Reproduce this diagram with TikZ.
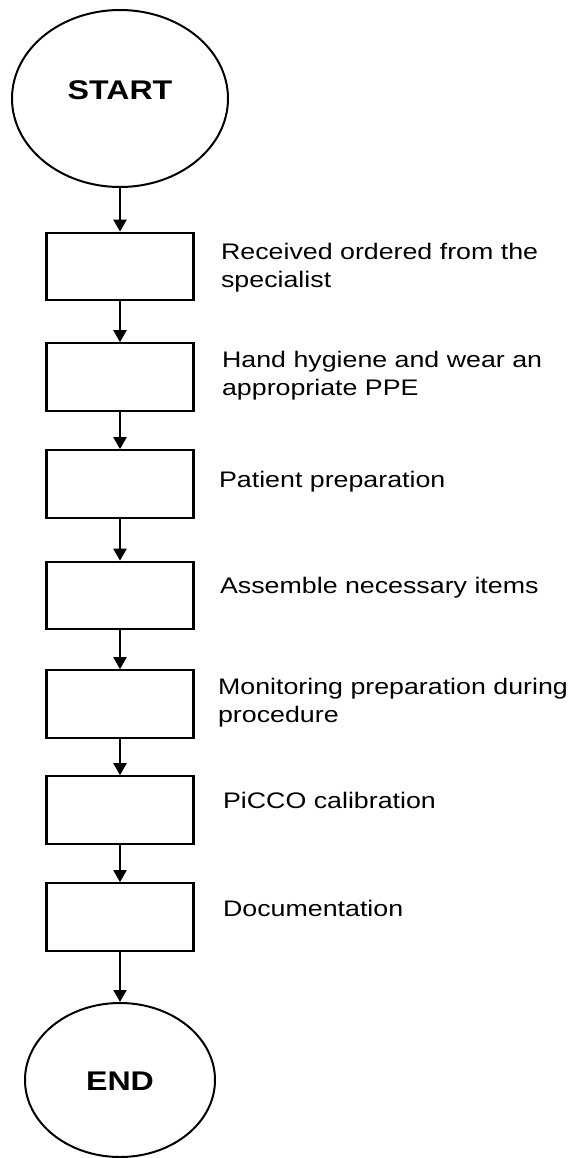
\documentclass[tikz,border=0pt]{standalone}
\usepackage{fontspec}
\setmainfont{Liberation Sans}[FakeStretch=1.19]
\usetikzlibrary{arrows.meta,shapes.geometric}

\begin{document}
\begin{tikzpicture}[x=1bp, y=-1bp, line width=2.2bp,
    every node/.style={font=\fontsize{22.5bp}{28bp}\selectfont},
    stepbox/.style={draw, rectangle, minimum width=147bp, minimum height=67.5bp, inner sep=0pt},
    term/.style={draw, ellipse, inner sep=0pt, line width=2bp},
    termtext/.style={font=\fontsize{27bp}{32bp}\selectfont\bfseries},
    steptext/.style={anchor=west, align=left, inner sep=0pt},
    flow/.style={-{Triangle[width=13bp,length=12bp]}}]
      \useasboundingbox (0,0) rectangle (573,1158);
      \node[term, minimum width=216bp, minimum height=177bp] (start) at (120,98.5) {};
      \node[termtext] (starttxt) at (120,90) {START};
      \node[stepbox] (received)   at (120,266.5) {};
      \node[stepbox] (hygiene)    at (120,377)   {};
      \node[stepbox] (patient)    at (120,484)   {};
      \node[stepbox] (assemble)   at (120,595.5) {};
      \node[stepbox] (monitoring) at (120,704)   {};
      \node[stepbox] (calib)      at (120,810)   {};
      \node[stepbox] (docu)       at (120,917)   {};
      \node[term, minimum width=190bp, minimum height=154bp] (stop) at (120,1080) {};
      \node[termtext] (stoptxt) at (120,1081) {END};
      \node[steptext] (receivedtxt)   at (220,268) {Received ordered from the\\specialist};
      \node[steptext] (hygienetxt)    at (221,375.5) {Hand hygiene and wear an\\appropriate PPE};
      \node[steptext] (patienttxt)    at (218,482) {Patient preparation};
      \node[steptext] (assembletxt)   at (219,588) {Assemble necessary items};
      \node[steptext] (monitoringtxt) at (217,703) {Monitoring preparation during\\procedure};
      \node[steptext] (calibtxt)      at (222,800) {PiCCO calibration};
      \node[steptext] (docutxt)       at (222,908) {Documentation};
      \draw[flow] (start) -- (received);
      \draw[flow] (received) -- (hygiene);
      \draw[flow] (hygiene) -- (patient);
      \draw[flow] (patient) -- (assemble);
      \draw[flow] (assemble) -- (monitoring);
      \draw[flow] (monitoring) -- (calib);
      \draw[flow] (calib) -- (docu);
      \draw[flow] (docu) -- (stop);
    \end{tikzpicture}
\end{document}
